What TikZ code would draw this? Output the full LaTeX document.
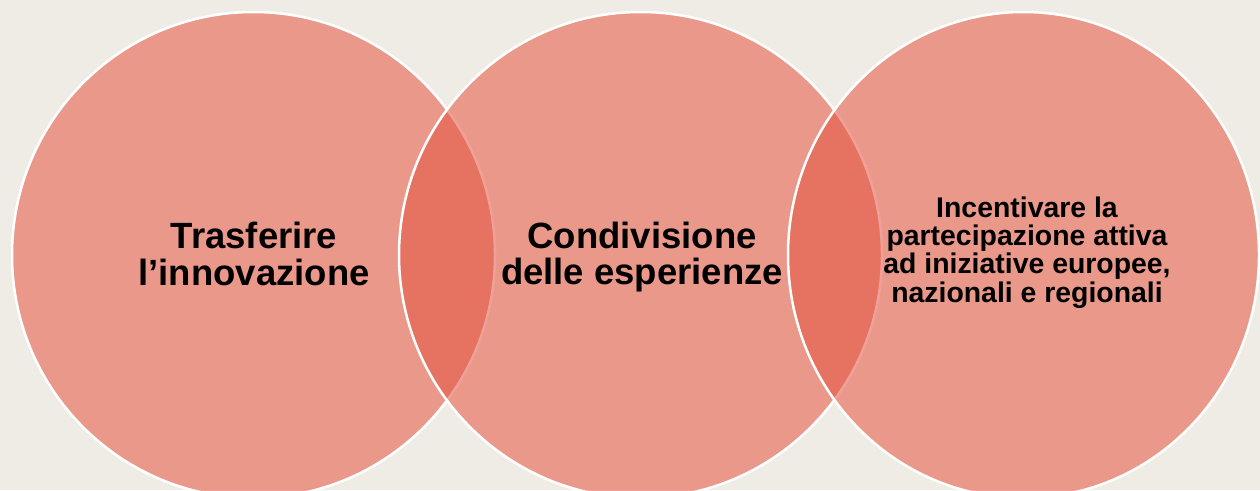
\documentclass[tikz,border=0pt]{standalone}
\usepackage{fontspec}
\setmainfont{Liberation Sans}
\definecolor{bgc}{RGB}{238,236,228}
\definecolor{circc}{RGB}{229,82,63}
\tikzset{
  venn/.style={fill=circc, fill opacity=0.54, draw=white, draw opacity=1, line width=2.5pt},
  bigtxt/.style={anchor=base, inner sep=0pt, font=\bfseries\fontsize{36.5}{37}\selectfont, text=black},
  smalltxt/.style={anchor=base, inner sep=0pt, font=\bfseries\fontsize{28.4}{28.4}\selectfont, text=black}
}
\begin{document}
\begin{tikzpicture}[x=1pt,y=-1pt]
\useasboundingbox (0,0) rectangle (1260,490);
\fill[bgc] (0,0) rectangle (1260,490);
\begin{scope}
\clip (0,0) rectangle (1260,490);
\draw[venn] (253.5,255) ellipse [x radius=241.5pt, y radius=243pt];
\draw[venn] (640.5,255) ellipse [x radius=241.5pt, y radius=243pt];
\draw[venn] (1023.5,255) ellipse [x radius=235.5pt, y radius=243pt];
\end{scope}
\node[bigtxt] (t1a) at (254,248) {Trasferire};
\node[bigtxt] (t1b) at (254,285) {l’innovazione};
\node[bigtxt] (t2a) at (642,248) {Condivisione};
\node[bigtxt] (t2b) at (642,284) {delle esperienze};
\node[smalltxt] (t3a) at (1027,217) {Incentivare la};
\node[smalltxt] (t3b) at (1027,245) {partecipazione attiva};
\node[smalltxt] (t3c) at (1027,273) {ad iniziative europee,};
\node[smalltxt] (t3d) at (1027,302) {nazionali e regionali};
\end{tikzpicture}
\end{document}
